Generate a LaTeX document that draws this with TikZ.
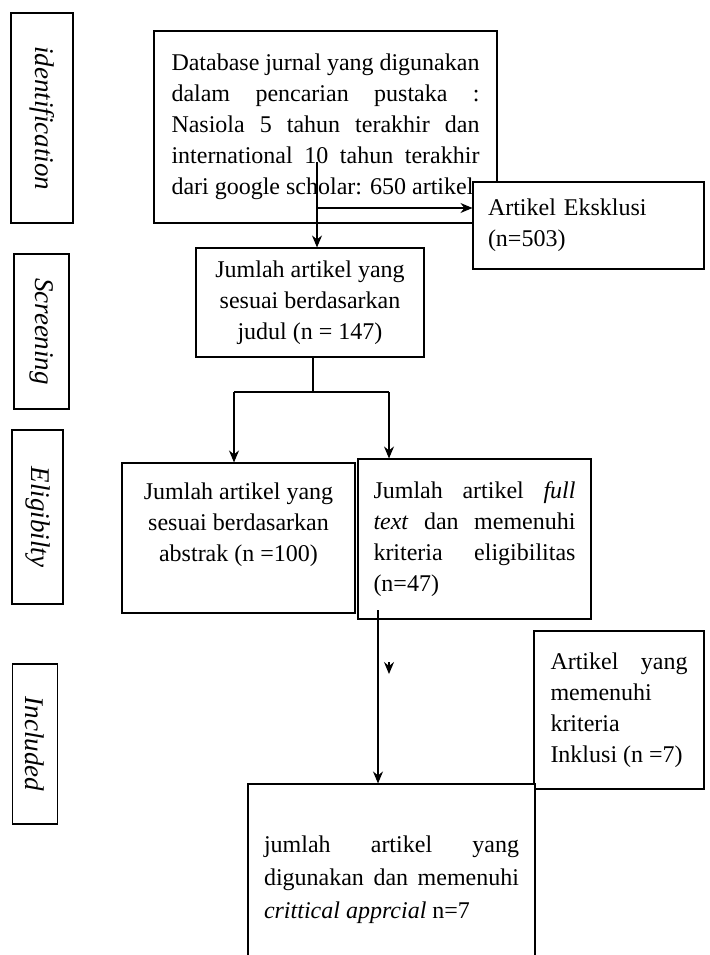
\documentclass[tikz,border=0pt]{standalone}
\usepackage{fontspec}
\setmainfont{Liberation Serif}
\usetikzlibrary{arrows.meta}
\newcommand{\jline}[2]{\makebox[#1][s]{#2}}

\begin{document}
\begin{tikzpicture}[
   x=1pt, y=-1pt,
   >={Stealth[length=12pt,width=10pt,inset=4pt]}, line width=1.1pt,
   font=\fontsize{24}{31}\selectfont,
   box/.style={draw, fill=white, inner sep=0pt, align=center},
   jbox/.style={box, align=left},
   phase/.style={box, rotate=-90, font=\fontsize{27}{30}\selectfont\itshape}]
  \useasboundingbox (0,0) rectangle (709,955);
  \node[phase, minimum width=210pt, minimum height=62pt] (phaseid)   at (42,118)    {identification};
  \node[phase, minimum width=155pt, minimum height=55pt] (phasescr)  at (41.5,331.5) {Screening};
  \node[phase, minimum width=174pt, minimum height=51pt] (phaseelig) at (37.5,517)  {Eligibilty};
  \node[phase, minimum width=160pt, minimum height=45pt] (phaseinc)  at (35,744)    {Included};
  \node[jbox, minimum width=343pt, minimum height=192pt] (db) at (325.5,127)
     {\jline{308pt}{Database jurnal yang digunakan}\\
      \jline{308pt}{dalam pencarian pustaka :}\\
      \jline{308pt}{Nasiola 5 tahun terakhir dan}\\
      \jline{308pt}{international 10 tahun terakhir}\\
      dari google scholar: 650 artikel};
  \node[jbox, text width=201pt, minimum width=231pt, minimum height=87pt] (excl) at (588.5,225.5)
     {Artikel Eksklusi\\(n=503)};
  \node[box, minimum width=228pt, minimum height=109pt] (title) at (310,302.5)
     {Jumlah artikel yang\\sesuai berdasarkan\\judul (n = 147)};
  \node[box, minimum width=233pt, minimum height=150pt] (abstr) at (238.5,538)
     {Jumlah artikel yang\\sesuai berdasarkan\\abstrak (n =100)\\ \mbox{}};
  \node[jbox, minimum width=233pt, minimum height=160pt] (full) at (474.5,539)
     {\jline{202pt}{Jumlah artikel \textit{full}}\\
      \jline{202pt}{\textit{text} dan memenuhi}\\
      \jline{202pt}{kriteria eligibilitas}\\
      (n=47)};
  \node[jbox, minimum width=170pt, minimum height=158pt] (incl) at (619,710)
     {\jline{137pt}{Artikel yang}\\memenuhi\\kriteria\\Inklusi (n =7)};
  \node[jbox, minimum width=287pt, minimum height=191pt,
        font=\fontsize{24}{33}\selectfont] (final) at (391.5,879.5)
     {\jline{255pt}{jumlah artikel yang}\\
      \jline{255pt}{digunakan dan memenuhi}\\
      \textit{crittical apprcial} n=7};
  \coordinate (dbout)   at (317,162);
  \coordinate (exout)   at (317,208);
  \coordinate (splitM)  at (313,392);
  \coordinate (splitL)  at (234,392);
  \coordinate (splitR)  at (389,392);
  \coordinate (fullout) at (378,610);
  \coordinate (stray)   at (389,662);
  \draw[->] (dbout) -- (dbout |- title.north);
  \draw[->] (exout) -- (exout -| excl.west);
  \draw (splitM |- title.south) -- (splitM);
  \draw (splitL) -- (splitR);
  \draw[->] (splitL) -- (splitL |- abstr.north);
  \draw[->] (splitR) -- (splitR |- full.north);
  \draw[->] (fullout) -- (fullout |- final.north);
  \draw[->] (stray) -- ++(0,12);
\end{tikzpicture}
\end{document}
